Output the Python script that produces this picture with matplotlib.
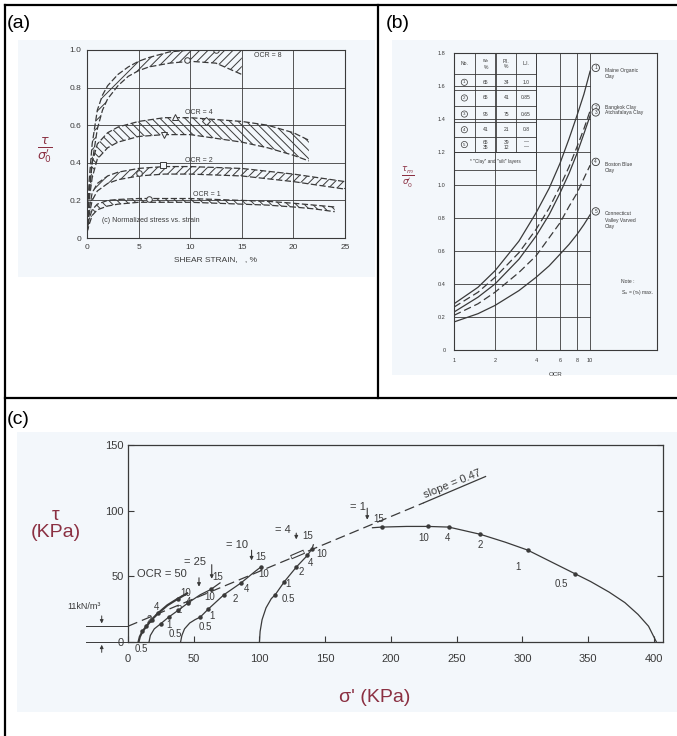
import numpy as np
import matplotlib.pyplot as plt
from matplotlib.patches import Rectangle
from matplotlib.lines import Line2D

W, H = 677, 736
INK = '#3a3a3a'
HAND = '#8b3042'
SCAN = '#f3f7fb'

# ---------------- (a) normalized stress vs strain, DSS bands
ocr8_strain = [0, 0.2, 0.5, 1, 1.5, 2, 3, 4, 5, 6, 8, 10, 12.5, 15]
ocr8_upper = [0.02, 0.30, 0.50, 0.68, 0.76, 0.81, 0.87, 0.91, 0.94, 0.96, 0.99, 1.0, 1.0, 1.0]
ocr8_lower = [0.02, 0.22, 0.40, 0.58, 0.68, 0.74, 0.81, 0.86, 0.89, 0.91, 0.93, 0.94, 0.93, 0.87]

ocr4_strain = [0, 0.2, 0.5, 1, 2, 3, 5, 7.5, 10, 12.5, 15, 17.5, 20, 21.5]
ocr4_upper = [0.02, 0.25, 0.40, 0.50, 0.56, 0.59, 0.62, 0.64, 0.64, 0.63, 0.62, 0.60, 0.56, 0.52]
ocr4_lower = [0.02, 0.20, 0.32, 0.42, 0.48, 0.51, 0.54, 0.55, 0.55, 0.53, 0.51, 0.48, 0.44, 0.41]

ocr2_strain = [0, 0.2, 0.5, 1, 2, 3, 5, 7.5, 10, 12.5, 15, 17.5, 20, 22.5, 25]
ocr2_upper = [0.02, 0.15, 0.24, 0.29, 0.33, 0.35, 0.37, 0.38, 0.38, 0.375, 0.37, 0.355, 0.34, 0.32, 0.30]
ocr2_lower = [0.02, 0.12, 0.20, 0.25, 0.29, 0.31, 0.33, 0.34, 0.34, 0.335, 0.33, 0.315, 0.30, 0.28, 0.26]

ocr1_strain = [0, 0.2, 0.5, 1, 2, 3, 5, 7.5, 10, 12.5, 15, 17.5, 20, 22, 24]
ocr1_upper = [0.03, 0.10, 0.15, 0.18, 0.20, 0.205, 0.21, 0.21, 0.21, 0.205, 0.20, 0.195, 0.185, 0.175, 0.165]
ocr1_lower = [0.03, 0.07, 0.12, 0.15, 0.17, 0.18, 0.19, 0.19, 0.19, 0.185, 0.18, 0.175, 0.165, 0.155, 0.14]

pts_strain = [12.5, 9.7, 8.5, 11.5, 7.5, 7.4, 5.0, 6.0]
pts_ratio = [1.0, 0.945, 0.645, 0.625, 0.55, 0.39, 0.345, 0.205]
pts_marker = ['o', 'o', '^', 'D', 'v', 's', 'o', 'o']

# ---------------- (b) tau_h/sigma'0 vs OCR
ocr_b = [1, 1.5, 2, 3, 4, 5, 6, 7, 8, 9, 10]
clay1 = [0.28, 0.38, 0.48, 0.66, 0.83, 0.98, 1.13, 1.28, 1.42, 1.55, 1.69]
clay2 = [0.26, 0.35, 0.44, 0.59, 0.73, 0.86, 0.99, 1.11, 1.23, 1.34, 1.45]
clay3 = [0.23, 0.32, 0.40, 0.55, 0.69, 0.82, 0.95, 1.07, 1.19, 1.31, 1.42]
clay4 = [0.21, 0.28, 0.35, 0.47, 0.57, 0.68, 0.77, 0.87, 0.95, 1.04, 1.12]
clay5 = [0.17, 0.22, 0.27, 0.36, 0.44, 0.51, 0.58, 0.64, 0.70, 0.76, 0.82]
clay_names = ['Maine Organic\nClay', 'Bangkok Clay', 'Atchafalaya Clay',
              'Boston Blue\nClay', 'Connecticut\nValley Varved\nClay']
clay_styles = ['-', (0, (6, 3)), '-', (0, (6, 3)), '-']
table_rows = [['No.', 'w$_n$\n%', 'P.I.\n%', 'L.I.'],
              ['1', '65', '34', '1.0'],
              ['2', '65', '41', '0.85'],
              ['3', '95', '75', '0.65'],
              ['4', '41', '21', '0.8'],
              ['5', '65\n35', '39\n12', '—\n—']]

# ---------------- (c) effective stress paths (kPa)
env_x = [0, 225, 272]
env_y = [12, 106, 126]
path1_x = [402, 396, 388, 378, 366, 352, 340, 322, 304, 287, 268, 255, 244, 228, 212, 193, 186]
path1_y = [0, 12, 21, 30, 38, 46, 52, 61, 70, 76, 82, 85, 87.5, 88, 88, 87.5, 87]
dots1_x = [340, 304, 268, 244, 228, 193]
dots1_y = [52, 70, 82, 87.5, 88, 87.5]
path4_x = [100, 100.5, 102, 105, 109, 112, 119, 128, 136.5, 140, 141]
path4_y = [0, 8, 17, 26, 33, 36, 46, 57, 66, 71, 74]
dots4_x = [112, 119, 128, 136.5, 140]
dots4_y = [36, 46, 57, 66, 71]
path10_x = [40, 41, 43, 47, 51, 55, 61, 73, 86, 97, 101]
path10_y = [0, 5, 10, 14.5, 17, 19, 25, 36, 45, 54, 57]
dots10_x = [55, 61, 73, 86, 101]
dots10_y = [19, 25, 36, 45, 57]
path25_x = [16, 17, 20, 25, 31, 38, 46, 55, 63, 70]
path25_y = [0, 5, 10, 14, 19, 24, 30, 36, 40, 45]
dots25_x = [25, 31, 38, 46, 63]
dots25_y = [14, 19, 24, 30, 40]
path50_x = [8, 9, 11, 14, 18, 23, 30, 38, 45]
path50_y = [0, 4, 8, 12, 17, 22, 28, 33, 37]
dots50_x = [11, 14, 18, 23, 38]
dots50_y = [8, 12, 17, 22, 33]


def box(l, t, r, b):
    return [l / W, 1 - b / H, (r - l) / W, (b - t) / H]


plt.rcParams['font.family'] = ['Liberation Sans', 'DejaVu Sans']
plt.rcParams['hatch.linewidth'] = 0.7
plt.rcParams['hatch.color'] = INK

fig = plt.figure(figsize=(W / 100, H / 100), dpi=100)

# scanned backgrounds
for l, t, r, b in [(18, 40, 375, 277), (392, 40, 677, 375), (17, 432, 677, 712)]:
    fig.add_artist(Rectangle((l / W, 1 - b / H), (r - l) / W, (b - t) / H,
                             transform=fig.transFigure, fc=SCAN, ec='none', zorder=0))

# outer table lines
for x0, y0, x1, y1 in [(5, 5, 677, 5), (5, 5, 5, 736), (378, 5, 378, 398), (5, 398, 677, 398)]:
    fig.add_artist(Line2D([x0 / W, x1 / W], [1 - y0 / H, 1 - y1 / H],
                          transform=fig.transFigure, color='black', lw=1.6))

fig.text(7 / W, 1 - 24 / H, '(a)', fontsize=14, va='center', ha='left')
fig.text(386 / W, 1 - 24 / H, '(b)', fontsize=14, va='center', ha='left')
fig.text(7 / W, 1 - 420 / H, '(c)', fontsize=14, va='center', ha='left')

# ---------------- panel (a)
ax = fig.add_axes(box(87, 50, 345, 238))
ax.set_facecolor('none')
ax.set_xlim(0, 25)
ax.set_ylim(0, 1.0)
ax.set_xticks([0, 5, 10, 15, 20, 25])
ax.set_yticks([0, 0.2, 0.4, 0.6, 0.8, 1.0])
ax.set_yticklabels(['0', '0.2', '0.4', '0.6', '0.8', '1.0'])
ax.grid(True, color=INK, lw=0.6)
ax.tick_params(length=0, labelsize=6, colors=INK, pad=4)
for s in ax.spines.values():
    s.set_color(INK)
    s.set_linewidth(0.8)
bands = [(ocr8_strain, ocr8_lower, ocr8_upper, '////'),
         (ocr4_strain, ocr4_lower, ocr4_upper, '\\\\\\\\'),
         (ocr2_strain, ocr2_lower, ocr2_upper, '////'),
         (ocr1_strain, ocr1_lower, ocr1_upper, '\\\\\\\\')]
for xs, lo, hi, hatch in bands:
    ax.fill_between(xs, lo, hi, facecolor='none', edgecolor=INK, hatch=hatch, lw=0)
    ax.plot(xs, hi, color=INK, lw=0.9, ls=(0, (5, 2)))
    ax.plot(xs, lo, color=INK, lw=0.9, ls=(0, (5, 2)))
for xv, yv, mk in zip(pts_strain, pts_ratio, pts_marker):
    ax.plot(xv, yv, marker=mk, ms=4, mfc=SCAN, mec=INK, mew=0.7)
ax.text(16.2, 0.965, 'OCR = 8', fontsize=5, color=INK)
ax.text(9.5, 0.66, 'OCR = 4', fontsize=5, color=INK)
ax.text(9.5, 0.405, 'OCR = 2', fontsize=5, color=INK)
ax.text(10.3, 0.222, 'OCR = 1', fontsize=5, color=INK)
ax.text(1.5, 0.085, '(c) Normalized stress vs. strain', fontsize=5, color=INK)
ax.set_xlabel('SHEAR STRAIN,   , %', fontsize=6, color=INK, labelpad=4)
fig.text(45 / W, 1 - 150 / H, r"$\frac{\tau}{\sigma_0'}$", fontsize=13,
         color=HAND, ha='center', va='center')

# ---------------- panel (b)
bx = fig.add_axes(box(454, 53, 657, 350))
bx.set_facecolor('none')
bx.set_xscale('log')
bx.set_xlim(1, 31)
bx.set_ylim(0, 1.8)
bx.set_xticks([1, 2, 4, 6, 8, 10])
bx.set_xticklabels(['1', '2', '4', '6', '8', '10'])
bx.minorticks_off()
bx.set_yticks(np.arange(0, 1.81, 0.2))
bx.set_yticklabels(['0', '0.2', '0.4', '0.6', '0.8', '1.0', '1.2', '1.4', '1.6', '1.8'])
bx.tick_params(length=0, labelsize=4, colors=INK, pad=6)
for s in bx.spines.values():
    s.set_color(INK)
    s.set_linewidth(0.8)
for xv in [2, 4, 6, 8, 10]:
    bx.plot([xv, xv], [0, 1.8], color=INK, lw=0.6)
for yv in np.arange(0.2, 1.61, 0.2):
    bx.plot([1, 10], [yv, yv], color=INK, lw=0.6)
for ys, name, ls, k in zip([clay1, clay2, clay3, clay4, clay5], clay_names, clay_styles, range(5)):
    bx.plot(ocr_b, ys, color=INK, lw=0.9, ls=ls)
    bx.text(11.0, ys[-1] + 0.02, str(k + 1), fontsize=3.5, ha='center', va='center', color=INK,
            bbox=dict(boxstyle='circle,pad=0.25', fc=SCAN, ec=INK, lw=0.6))
    bx.text(12.8, ys[-1] + 0.02, name, fontsize=3.6, ha='left', va='top' if '\n' in name else 'center',
            color=INK, linespacing=1.3)
bx.text(17, 0.43, 'Note :\nS$_u$ = (τ$_h$) max.', fontsize=3.6, color=INK, va='top', linespacing=1.6)
bx.set_xlabel('OCR', fontsize=4.5, color=INK, labelpad=6)
# table
col_x = [1.0, 1.42, 2.05, 2.86, 4.0]
row_y = [1.8, 1.67, 1.575, 1.48, 1.38, 1.29, 1.20, 1.09]
for xv in col_x:
    bx.plot([xv, xv], [row_y[-2], row_y[0]], color=INK, lw=0.6)
bx.plot([4.0, 4.0], [row_y[-1], row_y[-2]], color=INK, lw=0.6)
for yv in row_y:
    bx.plot([1.0, 4.0], [yv, yv], color=INK, lw=0.6)
for r, row in enumerate(table_rows):
    yc = (row_y[r] + row_y[r + 1]) / 2
    for c, cell in enumerate(row):
        xc = np.sqrt(col_x[c] * col_x[c + 1])
        if r > 0 and c == 0:
            bx.text(xc, yc, cell, fontsize=3.2, ha='center', va='center', color=INK,
                    bbox=dict(boxstyle='circle,pad=0.25', fc=SCAN, ec=INK, lw=0.5))
        else:
            bx.text(xc, yc, cell, fontsize=3.6, ha='center', va='center', color=INK, linespacing=1.0)
bx.text(2.0, (row_y[-2] + row_y[-1]) / 2, '* "Clay" and "silt" layers', fontsize=3.4,
        ha='center', va='center', color=INK)
fig.text(408 / W, 1 - 178 / H, r"$\frac{\tau_m}{\sigma_0'}$", fontsize=9,
         color=HAND, ha='center', va='center')

# ---------------- panel (c)
cx = fig.add_axes(box(128, 445, 663, 642))
cx.set_facecolor('none')
cx.set_xlim(0, 407)
cx.set_ylim(0, 150)
cx.set_xticks([0, 50, 100, 150, 200, 250, 300, 350, 400])
cx.set_yticks([0, 50, 100, 150])
cx.tick_params(direction='in', length=4, labelsize=8, colors=INK, top=False, right=True, pad=9)
cx.tick_params(axis='y', pad=3)
for s in cx.spines.values():
    s.set_color(INK)
    s.set_linewidth(0.9)
# envelope: dashed, solid under the slope label
cx.plot(env_x[:2], env_y[:2], color=INK, lw=0.9, ls=(0, (8, 4)))
cx.plot(env_x[1:], env_y[1:], color=INK, lw=0.9)
# hollow marker on the envelope near OCR = 4
cx.plot([124, 134], [64.5, 68.8], color=INK, lw=3.2, solid_capstyle='butt')
cx.plot([124.5, 133.5], [64.7, 68.6], color=SCAN, lw=1.6, solid_capstyle='butt')
for px, py, dx, dy, lw in [(path1_x, path1_y, dots1_x, dots1_y, 0.9),
                           (path4_x, path4_y, dots4_x, dots4_y, 0.9),
                           (path10_x, path10_y, dots10_x, dots10_y, 0.9),
                           (path25_x, path25_y, dots25_x, dots25_y, 0.9),
                           (path50_x, path50_y, dots50_x, dots50_y, 1.6)]:
    cx.plot(px, py, color=INK, lw=lw)
    cx.plot(dx, dy, 'o', color=INK, ms=2.2)
for txt, xy in [('0.5', (330, 44)), ('1', (297, 57)), ('2', (268, 74)), ('4', (243, 79)),
                ('10', (225, 79)), ('15', (191, 94)),
                ('0.5', (122, 33)), ('1', (122, 44.5)), ('2', (132, 53)), ('4', (139, 60)),
                ('10', (147, 67)), ('15', (137, 81)),
                ('0.5', (59, 11.4)), ('1', (63.7, 20)), ('2', (81.6, 33)), ('4', (90, 40.7)),
                ('10', (103, 52)), ('15', (101, 65)),
                ('0.5', (36, 6.4)), ('1', (31, 12.7)), ('2', (39, 24)), ('4', (45.7, 30.5)),
                ('10', (62, 34)), ('15', (68.6, 49.6)),
                ('0.5', (10, -5)), ('2', (16, 16.5)), ('4', (22, 26.7)), ('10', (44, 37))]:
    cx.text(xy[0], xy[1], txt, fontsize=7, ha='center', va='center', color=INK, clip_on=False)
for txt, xy, ax_x, y0, y1 in [('OCR = 50', (26, 52), 54, 51, 40),
                              ('= 25', (50.6, 61), 63.7, 61, 46),
                              ('= 10', (83, 73.7), 94, 72, 60),
                              ('= 4', (117.5, 85), 128, 85, 76),
                              ('= 1', (174.7, 103), 182, 104, 91)]:
    cx.text(xy[0], xy[1], txt, fontsize=8, ha='center', va='center', color=INK)
    cx.annotate('', xy=(ax_x, y1), xytext=(ax_x, y0),
                arrowprops=dict(arrowstyle='-|>', color=INK, lw=0.8, mutation_scale=5))
cx.text(247, 120, 'slope = 0.47', fontsize=8, rotation=22, ha='center', va='center', color=INK)
# 11 kN/m3 dimension marker
cx.text(-46, 27, '11kN/m³', fontsize=6.5, ha='left', va='center', color=INK, clip_on=False)
cx.plot([-32, 0], [12, 12], color=INK, lw=0.7, clip_on=False)
cx.plot([-32, 0], [0, 0], color=INK, lw=0.7, clip_on=False)
cx.annotate('', xy=(-20, 12), xytext=(-20, 22),
            arrowprops=dict(arrowstyle='-|>', color=INK, lw=0.7, mutation_scale=5), annotation_clip=False)
cx.annotate('', xy=(-20, 0), xytext=(-20, -10),
            arrowprops=dict(arrowstyle='-|>', color=INK, lw=0.7, mutation_scale=5), annotation_clip=False)
fig.text(56 / W, 1 - 524 / H, 'τ\n(KPa)', fontsize=14, color=HAND, ha='center', va='center',
         linespacing=1.0)
fig.text(375 / W, 1 - 698 / H, "σ' (KPa)", fontsize=14, color=HAND, ha='center', va='center')

fig.savefig('out.png', dpi=100)
